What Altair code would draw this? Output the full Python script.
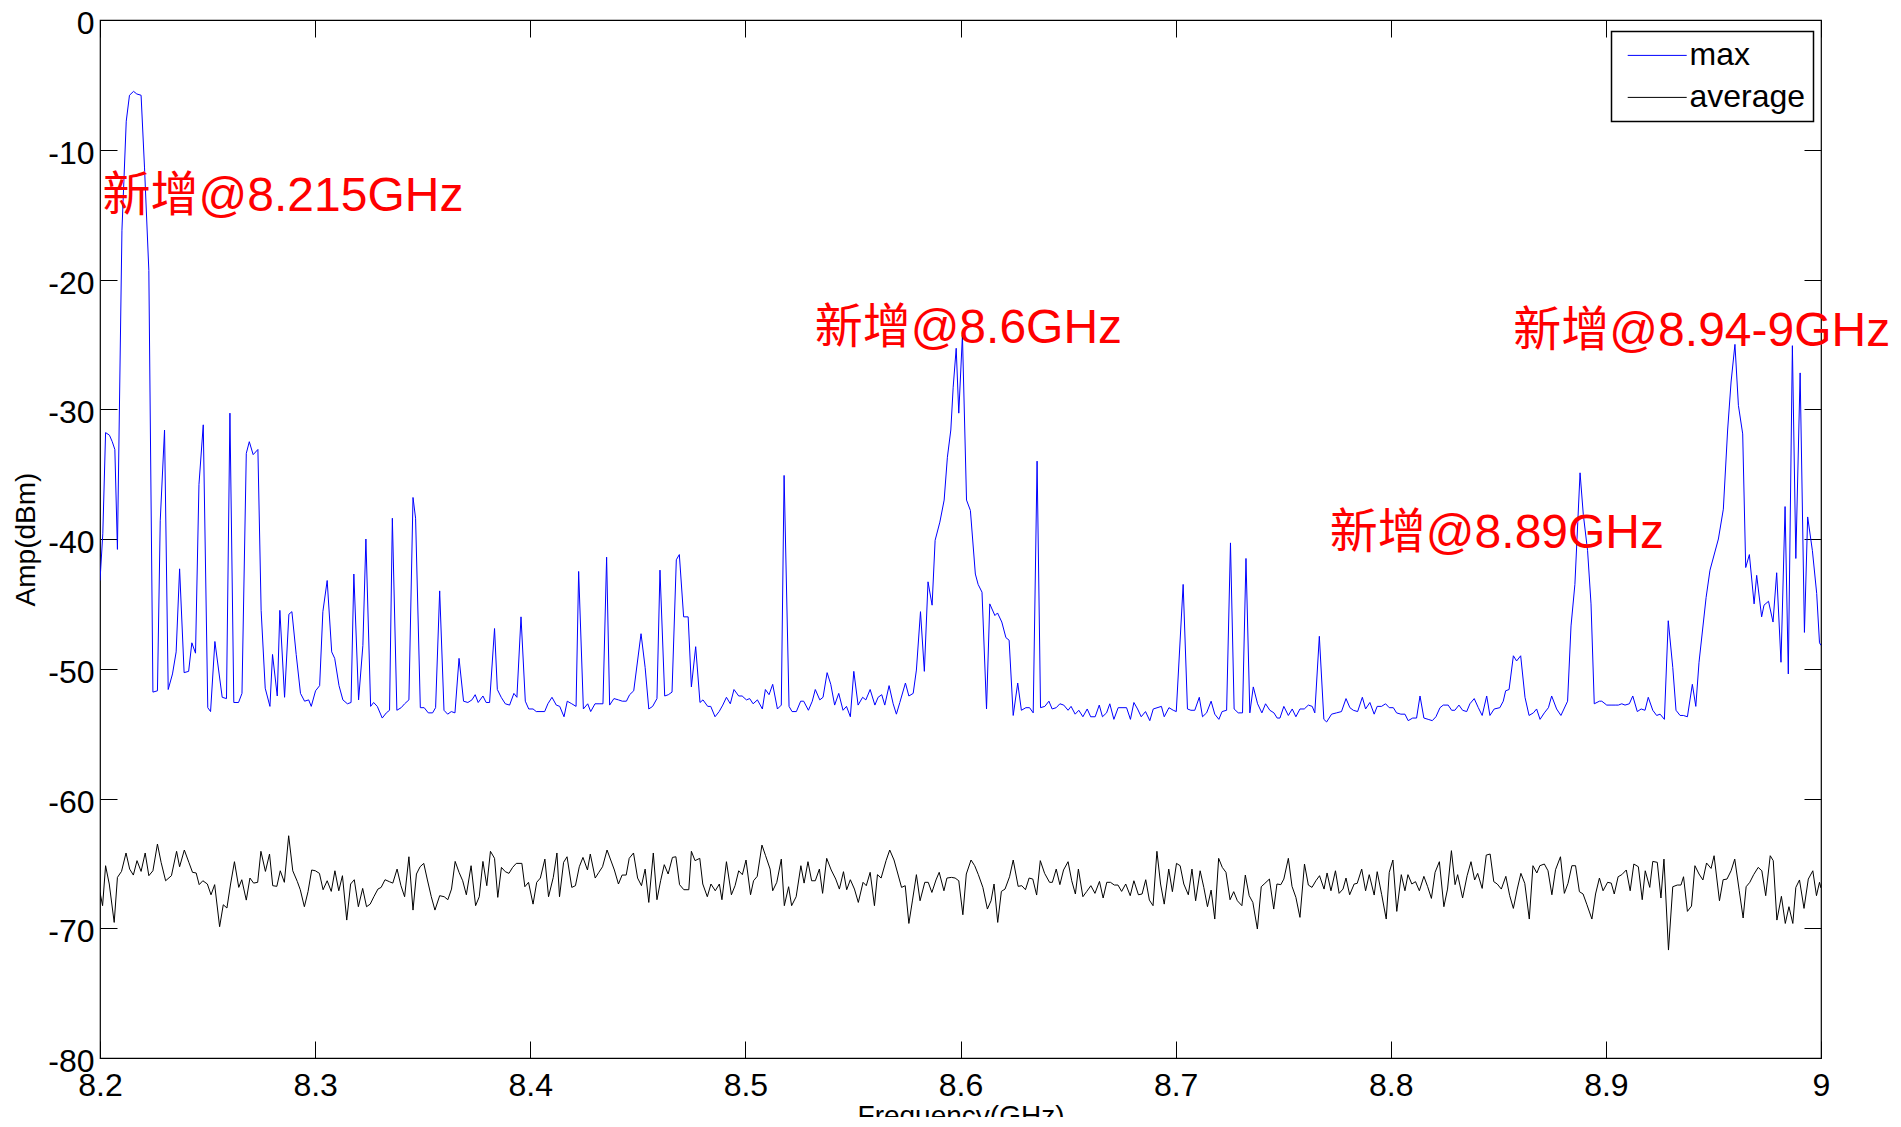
import altair as alt
import pandas as pd

# ---- max trace (GHz, dBm) ----
max_freq = [
8.2000,8.2013,8.2026,8.2044,8.2057,8.2069,8.2081,8.2102,8.2122,8.2137,8.2156,8.2171,8.2191,8.2207,8.2227,8.2246,8.2267,8.2280,8.2300,8.2317,
8.2337,8.2354,8.2370,8.2391,8.2412,8.2427,8.2444,8.2460,8.2480,8.2501,8.2514,8.2534,8.2568,8.2588,8.2604,8.2622,8.2644,8.2660,8.2680,8.2694,
8.2712,8.2734,8.2749,8.2768,8.2790,8.2802,8.2824,8.2836,8.2858,8.2878,8.2892,8.2912,8.2932,8.2951,8.2970,8.2982,8.3002,8.3021,8.3036,8.3056,
8.3077,8.3091,8.3111,8.3129,8.3150,8.3167,8.3180,8.3202,8.3222,8.3236,8.3258,8.3272,8.3289,8.3312,8.3331,8.3346,8.3359,8.3380,8.3400,8.3416,
8.3436,8.3455,8.3467,8.3489,8.3507,8.3526,8.3546,8.3560,8.3579,8.3599,8.3616,8.3633,8.3650,8.3669,8.3690,8.3710,8.3729,8.3744,8.3758,8.3780,
8.3795,8.3811,
8.3834,8.3847,8.3865,8.3884,8.3904,8.3924,8.3938,8.3957,8.3977,8.3993,8.4013,8.4028,8.4067,8.4082,8.4101,8.4121,8.4137,8.4157,8.4172,8.4193,
8.4213,8.4225,8.4247,8.4267,8.4281,8.4301,8.4320,8.4338,8.4355,8.4369,8.4389,8.4410,8.4428,8.4447,8.4462,8.4481,8.4515,8.4534,8.4551,8.4569,
8.4589,8.4603,8.4625,8.4642,8.4659,8.4679,8.4693,8.4713,8.4734,8.4749,8.4769,8.4789,8.4803,8.4825,8.4839,8.4859,8.4878,8.4895,8.4912,8.4930,
8.4947,8.4969,8.4985,8.5005,8.5020,8.5036,8.5056,8.5079,8.5093,8.5110,8.5127,8.5149,8.5167,8.5180,8.5203,8.5217,8.5237,8.5257,8.5271,8.5293,
8.5311,8.5325,8.5346,8.5361,8.5380,8.5397,8.5415,8.5434,8.5454,8.5470,8.5488,8.5504,8.5524,8.5545,8.5560,8.5580,8.5602,8.5617,8.5634,8.5648,
8.5668,8.5687,8.5702,8.5718,
8.5744,8.5760,8.5780,8.5795,8.5814,8.5832,8.5849,8.5868,8.5882,8.5904,8.5924,8.5939,8.5955,8.5966,8.5980,8.5992,8.6009,8.6028,8.6046,8.6069,
8.6082,8.6100,8.6121,8.6136,8.6160,8.6172,8.6192,8.6211,8.6226,8.6245,8.6266,8.6283,8.6304,8.6321,8.6338,8.6356,8.6372,8.6392,8.6411,8.6426,
8.6445,8.6462,8.6480,8.6500,8.6514,8.6533,8.6550,8.6569,8.6589,8.6605,8.6626,8.6645,8.6660,8.6679,8.6694,8.6713,8.6733,8.6772,8.6790,8.6806,
8.6823,8.6840,8.6860,8.6880,8.6896,8.6934,8.6947,8.6969,8.6989,8.7003,8.7035,8.7055,8.7071,8.7089,8.7110,8.7125,8.7144,8.7165,8.7182,8.7201,
8.7216,8.7237,8.7255,8.7272,8.7291,8.7311,8.7327,8.7345,8.7361,8.7381,8.7401,8.7418,8.7438,8.7457,8.7472,8.7485,
8.7503,8.7524,8.7542,8.7559,8.7578,8.7598,8.7617,8.7635,8.7647,8.7668,8.7689,8.7702,8.7725,8.7748,8.7771,8.7792,8.7810,8.7826,8.7846,8.7868,
8.7883,8.7903,8.7923,8.7937,8.7957,8.7976,8.7993,8.8012,8.8027,8.8047,8.8066,8.8081,8.8102,8.8120,8.8136,8.8154,8.8174,8.8193,8.8210,8.8229,
8.8244,8.8267,8.8283,8.8298,8.8317,8.8334,8.8353,8.8368,8.8388,8.8407,8.8425,8.8446,8.8461,8.8481,8.8507,8.8523,8.8534,8.8550,8.8570,8.8585,
8.8604,8.8624,8.8643,8.8663,8.8678,8.8694,8.8714,8.8733,8.8748,8.8771,8.8791,8.8822,8.8838,8.8856,8.8880,8.8895,8.8915,8.8931,8.8946,8.8970,
8.8981,8.9004,8.9024,8.9043,8.9058,8.9074,8.9089,8.9109,8.9125,8.9146,8.9164,8.9182,8.9197,8.9218,8.9236,8.9252,
8.9272,8.9290,8.9311,8.9326,8.9345,8.9360,8.9379,8.9402,8.9418,8.9433,8.9466,8.9484,8.9523,8.9546,8.9566,8.9582,8.9600,8.9616,8.9636,8.9650,
8.9667,8.9689,8.9701,8.9724,8.9735,8.9756,8.9777,8.9794,8.9814,8.9833,8.9848,8.9867,8.9883,8.9903,8.9923,8.9938,8.9960,8.9980,8.9993,9.0000,
]
max_amp = [
-43.2,-39.6,-31.8,-32.0,-32.5,-33.1,-40.8,-16.2,-7.8,-5.8,-5.5,-5.7,-5.8,-11.4,-19.3,-51.8,-51.7,-38.6,-31.6,-51.6,
-50.4,-48.7,-42.3,-50.3,-50.2,-48.0,-48.8,-35.8,-31.2,-53.0,-53.3,-47.9,-52.2,-52.3,-30.3,-52.6,-52.6,-51.9,-33.4,-32.5,
-33.5,-33.1,-45.5,-51.5,-52.9,-48.9,-52.1,-45.5,-52.2,-45.8,-45.6,-48.9,-51.9,-52.5,-52.4,-52.9,-51.7,-51.3,-45.6,-43.2,
-48.7,-49.2,-51.3,-52.4,-52.7,-52.6,-42.7,-52.4,-48.2,-40.0,-52.9,-52.6,-52.9,-53.8,-53.4,-53.2,-38.4,-53.2,-53.0,-52.7,
-52.4,-36.8,-38.4,-53.0,-53.0,-53.4,-53.4,-53.0,-44.0,-53.2,-53.5,-53.3,-53.4,-49.2,-52.5,-52.6,-52.4,-52.0,-52.6,-52.1,
-52.6,-52.6,
-46.9,-51.6,-52.2,-52.7,-52.8,-51.9,-52.2,-46.0,-52.5,-53.1,-53.1,-53.3,-53.3,-52.7,-52.2,-52.8,-52.9,-53.7,-52.5,-52.7,
-52.9,-42.5,-53.1,-52.7,-53.3,-52.7,-52.7,-52.7,-41.4,-52.8,-52.3,-52.4,-52.5,-52.5,-52.0,-51.7,-47.3,-49.9,-53.1,-52.9,
-52.3,-42.4,-52.1,-52.0,-51.8,-41.6,-41.2,-46.0,-46.0,-51.4,-48.3,-52.6,-52.4,-52.9,-52.9,-53.7,-53.3,-52.8,-52.2,-52.7,
-51.6,-52.1,-52.1,-52.4,-52.3,-52.7,-52.4,-53.1,-51.6,-52.0,-51.2,-53.1,-52.8,-35.1,-52.9,-53.3,-53.3,-52.5,-52.5,-53.2,
-52.5,-51.6,-52.4,-52.2,-50.3,-51.2,-52.8,-51.9,-53.2,-52.9,-53.7,-50.2,-52.8,-52.2,-52.4,-51.6,-52.8,-52.2,-52.0,-52.8,
-51.3,-52.7,-53.5,-52.6,
-51.1,-52.1,-51.9,-50.1,-45.6,-50.2,-43.3,-45.1,-40.1,-38.7,-37.0,-33.7,-31.6,-28.3,-25.3,-30.3,-24.3,-37.0,-37.8,-42.7,
-43.5,-44.1,-53.1,-45.0,-45.9,-45.7,-46.4,-47.6,-47.8,-53.6,-51.1,-53.2,-53.0,-53.0,-53.4,-34.0,-53.0,-52.9,-52.5,-53.1,
-53.0,-52.7,-52.8,-53.2,-52.9,-53.5,-53.2,-53.7,-53.1,-53.7,-53.7,-52.8,-53.7,-53.4,-52.7,-53.9,-53.0,-53.0,-53.9,-52.6,
-53.1,-53.7,-53.3,-54.0,-53.1,-52.9,-53.7,-53.0,-53.2,-53.3,-43.5,-53.1,-53.2,-53.2,-52.2,-53.7,-53.4,-52.5,-53.5,-53.9,
-53.3,-53.2,-40.3,-53.1,-53.4,-53.4,-41.5,-53.4,-51.4,-52.7,-53.4,-52.7,-53.2,-53.4,-53.8,-53.8,
-52.9,-53.6,-53.1,-53.7,-53.1,-53.1,-52.8,-52.9,-53.4,-47.5,-53.9,-54.1,-53.5,-53.4,-53.3,-52.3,-53.0,-53.2,-53.3,-52.2,
-53.1,-52.6,-53.5,-52.9,-52.9,-52.7,-53.0,-53.0,-53.4,-53.5,-53.5,-54.0,-53.8,-53.8,-52.1,-53.8,-53.9,-54.0,-53.7,-53.0,
-52.8,-52.8,-53.2,-53.2,-52.8,-53.2,-53.3,-52.7,-52.3,-53.0,-53.6,-52.1,-53.6,-53.1,-53.0,-52.5,-51.7,-51.6,-49.0,-49.4,
-49.0,-52.2,-53.6,-53.4,-53.1,-53.9,-53.4,-53.0,-52.1,-53.1,-53.6,-52.5,-46.7,-43.5,-34.9,-38.1,-40.9,-45.0,-52.7,-52.5,
-52.5,-52.8,-52.8,-52.8,-52.8,-52.7,-52.8,-52.7,-52.1,-53.3,-53.1,-53.2,-52.2,-53.2,-53.6,-53.5,
-53.9,-46.3,-49.9,-53.2,-53.6,-53.6,-53.7,-51.2,-52.9,-49.5,-44.5,-42.4,-40.0,-37.7,-31.6,-27.9,-25.0,-29.7,-31.9,-42.2,
-41.2,-45.0,-42.8,-46.0,-45.1,-44.8,-46.4,-42.6,-49.5,-37.5,-50.4,-25.1,-41.5,-27.2,-47.2,-38.3,-40.9,-44.2,-48.0,-48.2,
]

# ---- average trace (GHz, dBm) ----
avg_freq = [
8.2000,8.2012,8.2026,8.2043,8.2066,8.2081,8.2100,8.2121,8.2138,8.2155,8.2172,8.2191,8.2210,8.2227,8.2246,8.2267,8.2284,8.2305,8.2332,8.2356,
8.2370,8.2392,8.2413,8.2430,8.2447,8.2461,8.2478,8.2499,8.2516,8.2533,8.2556,8.2573,8.2590,8.2607,8.2625,8.2645,8.2659,8.2680,8.2697,8.2714,
8.2733,8.2748,8.2769,8.2788,8.2803,8.2822,8.2838,8.2857,8.2877,8.2896,8.2917,8.2931,8.2950,8.2967,8.2984,8.3001,8.3020,8.3037,8.3056,8.3075,
8.3092,8.3110,8.3127,8.3147,8.3165,8.3182,8.3201,8.3221,8.3239,8.3256,8.3273,8.3292,8.3307,8.3325,8.3345,8.3361,8.3381,8.3399,8.3416,8.3436,
8.3455,8.3471,8.3488,8.3505,8.3522,8.3540,8.3557,8.3579,8.3600,8.3617,8.3634,8.3651,8.3669,8.3686,8.3703,8.3725,8.3746,8.3763,8.3780,8.3798,
8.3815,8.3834,8.3849,8.3866,8.3884,8.3901,8.3918,8.3935,8.3961,8.3975,8.3992,8.4013,8.4030,8.4047,8.4068,8.4085,8.4107,8.4124,8.4136,8.4155,
8.4171,8.4193,8.4210,8.4228,8.4245,8.4266,8.4279,8.4302,8.4319,8.4336,8.4357,8.4374,8.4391,8.4410,8.4427,8.4446,8.4460,8.4480,8.4499,8.4517,
8.4534,8.4551,8.4572,8.4589,8.4606,8.4623,8.4641,8.4661,
8.4677,8.4694,8.4714,8.4737,8.4749,8.4766,8.4788,8.4802,8.4823,8.4840,8.4860,8.4879,8.4891,8.4912,8.4935,8.4952,8.4969,8.4986,8.5003,8.5024,
8.5038,8.5055,8.5077,8.5094,8.5115,8.5127,8.5146,8.5167,8.5181,8.5201,8.5215,8.5236,8.5258,8.5273,8.5291,8.5308,8.5325,8.5344,8.5359,8.5378,
8.5399,8.5420,8.5437,8.5456,8.5471,8.5488,8.5507,8.5525,8.5547,8.5562,8.5580,8.5600,8.5614,8.5631,8.5654,8.5671,8.5691,8.5709,8.5726,8.5743,
8.5760,8.5777,8.5795,8.5812,8.5834,8.5850,8.5867,8.5886,8.5901,8.5923,8.5937,8.5958,8.5975,8.5992,8.6011,8.6027,8.6049,8.6066,8.6083,8.6104,
8.6125,8.6142,8.6156,8.6173,8.6190,8.6207,8.6228,8.6245,8.6268,8.6285,8.6302,8.6319,8.6336,8.6354,8.6371,8.6391,8.6414,8.6427,8.6445,8.6462,
8.6479,8.6500,8.6517,8.6534,8.6548,8.6569,8.6586,8.6606,8.6625,8.6646,8.6663,8.6680,8.6697,8.6715,8.6732,8.6749,8.6768,8.6789,8.6806,8.6827,
8.6844,8.6861,8.6878,8.6895,8.6913,8.6930,8.6947,8.6968,8.6985,8.7004,8.7021,8.7038,8.7059,8.7076,8.7093,8.7114,8.7131,8.7148,8.7165,8.7182,
8.7200,8.7217,8.7234,8.7253,8.7270,8.7287,8.7308,
8.7324,8.7342,8.7359,8.7380,8.7398,8.7415,8.7436,8.7456,8.7471,8.7489,8.7503,8.7524,8.7541,8.7559,8.7578,8.7599,8.7617,8.7634,8.7652,8.7669,
8.7690,8.7704,8.7722,8.7743,8.7760,8.7778,8.7792,8.7809,8.7830,8.7844,8.7865,8.7883,8.7900,8.7923,8.7937,8.7958,8.7979,8.7993,8.8010,8.8028,
8.8049,8.8066,8.8080,8.8098,8.8115,8.8133,8.8154,8.8171,8.8189,8.8206,8.8226,8.8247,8.8264,8.8282,8.8299,8.8311,8.8334,8.8355,8.8373,8.8390,
8.8404,8.8425,8.8444,8.8462,8.8479,8.8495,8.8514,8.8535,8.8553,8.8570,8.8588,8.8605,8.8623,8.8644,8.8661,8.8679,8.8693,8.8714,8.8731,8.8749,
8.8766,8.8789,8.8807,8.8824,8.8842,8.8859,8.8877,8.8894,8.8912,8.8935,8.8952,8.8970,8.8987,8.9008,8.9025,8.9039,8.9057,8.9074,8.9095,8.9113,
8.9130,8.9151,8.9169,8.9183,8.9204,8.9218,8.9239,8.9256,8.9270,8.9291,8.9311,8.9332,8.9349,8.9361,8.9379,8.9398,8.9414,8.9433,8.9451,8.9468,
8.9489,8.9503,8.9528,8.9545,8.9563,8.9582,8.9599,8.9620,8.9638,8.9652,8.9669,8.9687,8.9708,8.9725,8.9743,8.9764,8.9778,8.9795,8.9816,8.9834,
8.9851,8.9869,8.9883,8.9900,8.9921,8.9941,8.9962,8.9979,8.9993,9.0000,
]
avg_amp = [
-67.24,-68.26,-65.18,-66.59,-69.55,-66.08,-65.62,-64.20,-65.44,-65.90,-64.79,-65.62,-64.20,-65.95,-65.57,-63.51,-64.92,-66.34,-65.95,-64.07,
-65.26,-63.97,-64.92,-65.69,-65.74,-66.64,-66.34,-66.59,-67.42,-66.64,-69.88,-68.19,-68.44,-66.59,-64.87,-66.85,-66.26,-67.83,-66.13,-66.52,
-66.46,-64.07,-65.62,-64.28,-66.72,-66.77,-65.57,-66.46,-62.87,-65.57,-66.39,-67.03,-68.34,-67.18,-65.51,-65.57,-65.77,-67.03,-66.34,-67.16,
-65.57,-67.11,-65.95,-69.37,-66.59,-66.26,-68.34,-66.93,-68.34,-68.14,-67.57,-66.98,-66.85,-66.26,-66.41,-66.52,-65.44,-66.72,-67.57,-64.49,
-68.60,-65.82,-65.26,-65.00,-66.28,-67.57,-68.60,-67.49,-67.57,-67.80,-66.98,-64.85,-65.69,-66.34,-67.42,-65.18,-68.26,-67.57,-64.85,-66.72,
-64.07,-64.61,-67.62,-65.31,-65.64,-65.77,-65.31,-65.00,-65.00,-66.80,-66.46,-68.14,-66.46,-66.13,-64.67,-67.57,-66.08,-64.20,-67.57,-64.92,
-64.49,-66.85,-66.72,-65.26,-64.54,-65.51,-64.28,-66.13,-65.69,-65.26,-63.97,-64.74,-65.51,-66.59,-65.90,-65.90,-64.61,-64.20,-66.13,-66.72,
-65.44,-68.01,-64.20,-67.80,-66.34,-65.10,-65.82,-64.54,
-64.49,-66.64,-67.03,-67.03,-64.07,-64.79,-64.61,-66.59,-67.57,-66.59,-67.11,-66.59,-67.80,-64.87,-67.42,-66.72,-65.57,-65.87,-64.74,-67.42,
-66.34,-66.00,-63.59,-64.41,-65.44,-67.11,-66.46,-64.67,-68.26,-66.80,-68.26,-67.57,-65.18,-66.52,-64.87,-66.34,-66.34,-65.44,-67.31,-64.61,
-65.51,-66.21,-66.98,-65.64,-67.03,-66.26,-66.98,-68.01,-66.46,-66.72,-65.69,-68.26,-65.87,-66.13,-64.79,-63.97,-64.74,-65.82,-66.85,-66.72,
-69.63,-67.83,-65.87,-67.88,-66.46,-66.46,-67.24,-66.28,-65.69,-67.11,-66.13,-66.08,-66.13,-66.34,-68.96,-65.82,-64.74,-65.18,-65.87,-66.85,
-68.52,-67.88,-66.59,-69.55,-67.16,-66.98,-66.03,-64.74,-66.77,-66.72,-67.03,-66.13,-66.21,-67.44,-64.79,-65.77,-66.46,-66.46,-65.44,-66.64,
-65.51,-64.87,-66.34,-67.36,-65.44,-67.57,-67.18,-66.72,-67.31,-66.39,-67.67,-66.46,-66.46,-66.67,-66.67,-67.16,-66.59,-67.49,-66.34,-67.42,
-67.36,-66.26,-67.83,-68.26,-64.07,-66.59,-68.14,-65.44,-67.18,-65.00,-65.18,-66.59,-67.42,-65.44,-67.88,-65.57,-66.85,-68.34,-67.06,-69.29,
-64.61,-65.31,-65.69,-67.80,-67.18,-67.88,-68.26,
-65.90,-67.49,-68.01,-70.06,-66.80,-66.54,-66.21,-68.52,-66.59,-66.64,-66.21,-64.61,-66.77,-67.62,-69.16,-65.05,-66.67,-66.85,-66.34,-65.95,
-66.98,-65.74,-67.11,-65.57,-67.31,-66.98,-66.13,-67.42,-66.59,-66.54,-65.44,-67.11,-65.87,-67.44,-65.64,-67.42,-69.29,-65.69,-64.74,-68.70,
-65.87,-67.11,-65.87,-66.59,-66.41,-67.11,-66.00,-66.77,-67.70,-65.69,-64.87,-68.34,-66.98,-64.02,-66.64,-65.87,-67.67,-65.95,-64.87,-66.28,
-65.77,-66.93,-64.36,-64.28,-66.41,-66.59,-66.98,-66.00,-67.49,-68.47,-66.98,-65.77,-66.54,-69.29,-65.18,-65.74,-65.18,-65.05,-65.57,-67.42,
-65.49,-64.49,-67.31,-66.54,-65.18,-65.18,-67.18,-67.36,-68.19,-69.29,-67.36,-66.13,-67.11,-66.46,-66.52,-67.36,-66.03,-65.87,-65.51,-67.11,
-65.05,-65.26,-67.80,-65.57,-66.85,-64.85,-64.92,-67.67,-64.67,-71.68,-66.80,-66.67,-66.67,-66.03,-68.70,-68.29,-65.18,-65.82,-66.28,-64.97,
-65.39,-64.41,-67.88,-66.26,-66.21,-65.57,-64.67,-67.11,-69.21,-66.80,-66.46,-65.87,-65.31,-65.57,-67.49,-64.41,-64.79,-69.37,-67.54,-69.63,
-68.34,-69.63,-66.85,-66.28,-68.47,-66.21,-65.57,-67.49,-66.46,-66.90,
]

series_names = ["max", "average"]
series_colors = ["#0000ff", "#000000"]

# ---- annotations ----
note_text = ["新增@8.215GHz", "新增@8.6GHz", "新增@8.89GHz", "新增@8.94-9GHz"]
note_freq = [8.2012, 8.5322, 8.7717, 8.8570]
note_amp = [-14.7, -24.9, -40.7, -25.1]

x_ticks = [8.2, 8.3, 8.4, 8.5, 8.6, 8.7, 8.8, 8.9, 9.0]
y_ticks = [0, -10, -20, -30, -40, -50, -60, -70, -80]

df = pd.concat([
    pd.DataFrame({"freq": max_freq, "amp": max_amp, "series": "max"}),
    pd.DataFrame({"freq": avg_freq, "amp": avg_amp, "series": "average"}),
], ignore_index=True)
notes = pd.DataFrame({"label": note_text, "freq": note_freq, "amp": note_amp})

FONT = "Liberation Sans"
xscale = alt.Scale(domain=[8.2, 9.0], nice=False, zero=False)
yscale = alt.Scale(domain=[-80, 0], nice=False, zero=False)

lines = alt.Chart(df).mark_line(strokeWidth=1, clip=True).encode(
    x=alt.X("freq:Q", scale=xscale, axis=alt.Axis(
        orient="bottom", values=x_ticks, labelExpr="'' + datum.value",
        offset=-17, tickSize=17, labelPadding=12, labelFontSize=32,
        labelFlush=False, labelOverlap=False, title="Frequency(GHz)",
        titleFontSize=28, titlePadding=1)),
    y=alt.Y("amp:Q", scale=yscale, axis=alt.Axis(
        orient="left", values=y_ticks, labelExpr="'' + datum.value",
        offset=-17, tickSize=17, labelPadding=6, labelFontSize=32,
        labelOffset=3.5, labelOverlap=False, title="Amp(dBm)", titleFontSize=28,
        titlePadding=7)),
    color=alt.Color("series:N", scale=alt.Scale(domain=series_names, range=series_colors),
                    legend=alt.Legend(
                        title=None, orient="none", legendX=1511.5, legendY=11.4,
                        strokeColor="black", fillColor="white", padding=8,
                        symbolType="M-0.66,0H4.34", symbolSize=557, symbolStrokeWidth=1,
                        labelFontSize=32, labelFont=FONT, labelColor="black",
                        labelOffset=38, rowPadding=10)),
    order=alt.Order("freq:Q"),
)

texts = alt.Chart(notes).mark_text(
    align="left", baseline="alphabetic", fontSize=48, color="#ff0000",
    font="Liberation Sans, Noto Sans CJK SC"
).encode(
    x=alt.X("freq:Q", scale=xscale, axis=alt.Axis(
        orient="top", values=x_ticks, offset=-17, tickSize=17, labels=False, title=None)),
    y=alt.Y("amp:Q", scale=yscale, axis=alt.Axis(
        orient="right", values=y_ticks, offset=-17, tickSize=17, labels=False, title=None)),
    text="label:N",
)

chart = alt.layer(lines, texts).resolve_axis(
    x="independent", y="independent"
).properties(
    width=1721, height=1038,
    autosize=alt.AutoSizeParams(type="none"),
    padding={"left": 92, "top": 12, "right": 72, "bottom": 59},
).configure_view(
    stroke="black", strokeWidth=1.2
).configure_axis(
    grid=False, domain=False, tickColor="black", tickWidth=1,
    labelColor="black", labelFont=FONT, titleFont=FONT,
    titleFontWeight="normal", titleColor="black",
).configure_legend(
    strokeWidth=1.5
)

chart.save("out.html", embed_options={"renderer": "svg", "actions": False})
